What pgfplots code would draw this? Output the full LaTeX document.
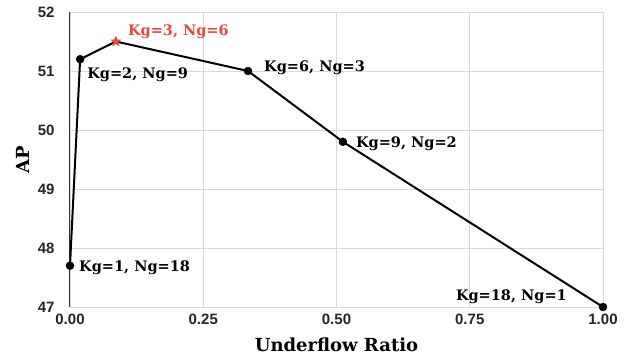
\documentclass[border=0pt]{standalone}
\usepackage{fontspec}
\setmainfont{DejaVu Serif}
\newfontfamily\ticksf{Liberation Sans}
\usepackage{pgfplots}
\pgfplotsset{compat=1.18}
\definecolor{starred}{HTML}{E8473C}
\definecolor{gridgray}{HTML}{D9D9D9}
\pgfdeclareplotmark{fstar}{%
  \pgfpathmoveto{\pgfpointpolar{90}{\pgfplotmarksize}}%
  \pgfpathlineto{\pgfpointpolar{126}{0.42\pgfplotmarksize}}%
  \pgfpathlineto{\pgfpointpolar{162}{\pgfplotmarksize}}%
  \pgfpathlineto{\pgfpointpolar{198}{0.42\pgfplotmarksize}}%
  \pgfpathlineto{\pgfpointpolar{234}{\pgfplotmarksize}}%
  \pgfpathlineto{\pgfpointpolar{270}{0.42\pgfplotmarksize}}%
  \pgfpathlineto{\pgfpointpolar{306}{\pgfplotmarksize}}%
  \pgfpathlineto{\pgfpointpolar{342}{0.42\pgfplotmarksize}}%
  \pgfpathlineto{\pgfpointpolar{18}{\pgfplotmarksize}}%
  \pgfpathlineto{\pgfpointpolar{54}{0.42\pgfplotmarksize}}%
  \pgfpathclose
  \pgfusepathqfill}
\begin{document}
\begin{tikzpicture}
\begin{axis}[
  scale only axis,
  width=533bp, height=295bp,
  xmin=0, xmax=1, ymin=47, ymax=52,
  xtick={0,0.25,0.5,0.75,1},
  xticklabels={0.00,0.25,0.50,0.75,1.00},
  ytick={47,48,49,50,51,52},
  grid=major,
  major grid style={draw=gridgray, line width=0.9bp},
  axis line style={draw=gridgray, line width=0.9bp},
  major tick length=0pt,
  tick label style={font=\ticksf\bfseries\fontsize{15bp}{18bp}\selectfont, text=black!85},
  /pgf/number format/assume math mode=true,
  yticklabel style={xshift=-12bp},
  xticklabel style={yshift=-4bp},
  xlabel={Underflow Ratio},
  ylabel={AP},
  label style={font=\bfseries\fontsize{18bp}{21bp}\selectfont},
  xlabel style={yshift=-6bp},
  ylabel style={yshift=1bp},
  clip=false,
]
\draw[black!80, line width=1bp] (rel axis cs:0,0) -- (rel axis cs:0,1);
\coordinate (O) at (rel axis cs:0,0);
\coordinate (T) at (rel axis cs:1,1);
\addplot[black, line width=2bp, mark=none] coordinates {
  (0.0,47.7) (0.019,51.2) (0.086,51.5) (0.334,51.0) (0.512,49.8) (1.0,47.0)};
\addplot[only marks, mark=*, mark size=4bp, black] coordinates {
  (0.0,47.7) (0.019,51.2) (0.334,51.0) (0.512,49.8) (1.0,47.0)};
\addplot[only marks, mark=fstar, mark size=6bp, starred] coordinates {
  (0.086,51.5)};
\begin{scope}[every node/.style={font=\bfseries\fontsize{14.5bp}{17bp}\selectfont, inner sep=0pt}]
\node[anchor=west] at ([xshift=9bp,yshift=-2bp]axis cs:0.0,47.7) {Kg=1, Ng=18};
\node[anchor=west] at ([xshift=7bp,yshift=-16bp]axis cs:0.019,51.2) {Kg=2, Ng=9};
\node[anchor=west, text=starred] at ([xshift=12bp,yshift=10bp]axis cs:0.086,51.5) {Kg=3, Ng=6};
\node[anchor=west] at ([xshift=16bp,yshift=3bp]axis cs:0.334,51.0) {Kg=6, Ng=3};
\node[anchor=west] at ([xshift=13bp,yshift=-2bp]axis cs:0.512,49.8) {Kg=9, Ng=2};
\node[anchor=east] at ([xshift=-36bp,yshift=10bp]axis cs:1.0,47.0) {Kg=18, Ng=1};
\end{scope}
\end{axis}
\pgfresetboundingbox
\path[use as bounding box] ([shift={(-70bp,-51bp)}]O) rectangle ([shift={(28bp,12bp)}]T);
\end{tikzpicture}
\end{document}
